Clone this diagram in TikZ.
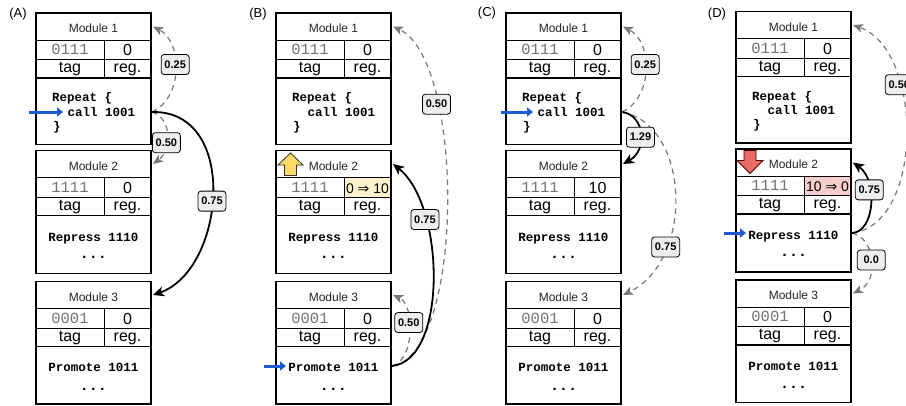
\documentclass[tikz,border=0pt]{standalone}
\usepackage{fontspec}
\setmainfont{Liberation Sans}
\newfontfamily\codefont{Liberation Mono}
\newfontfamily\symfont{DejaVu Sans}
\usetikzlibrary{arrows.meta}
\definecolor{blueA}{RGB}{30,90,210}
\definecolor{dgray}{RGB}{120,120,120}
\definecolor{lblfill}{RGB}{238,238,238}
\definecolor{yelcell}{RGB}{255,242,204}
\definecolor{redcell}{RGB}{248,206,204}
\definecolor{yelicon}{RGB}{255,217,102}
\definecolor{redicon}{RGB}{234,107,102}
\tikzset{
 cell/.style={draw, line width=0.9pt, anchor=north west, inner sep=0pt, outer sep=0pt},
 hdr/.style={cell, minimum width=115, minimum height=27, text height=12pt, text depth=0pt, font=\fontsize{12}{14}\selectfont, text=black!85},
 valL/.style={cell, minimum width=68, minimum height=19.5, text height=10pt, text depth=0pt, font=\codefont\fontsize{15.5}{16}\selectfont, text=black!55},
 valR/.style={cell, minimum width=47, minimum height=19.5, text height=11.5pt, text depth=0pt, font=\fontsize{16}{17}\selectfont},
 labL/.style={cell, minimum width=68, minimum height=18.5, text height=11.5pt, text depth=3.5pt, font=\fontsize{16}{17}\selectfont},
 labR/.style={labL, minimum width=47},
 bodybox/.style={draw, line width=1.5pt, anchor=north west, minimum width=115, inner sep=0pt, outer sep=0pt},
 outer/.style={line width=1.5pt},
 code/.style={font=\codefont\bfseries\fontsize{12.5}{14}\selectfont, inner sep=0pt},
 dots/.style={font=\codefont\bfseries\fontsize{15}{16}\selectfont, inner sep=0pt, anchor=base},
 panellbl/.style={font=\fontsize{13}{14}\selectfont, inner sep=0pt},
 bluearr/.style={draw=blueA, line width=3pt, -{Triangle[length=6pt,width=9pt]}},
 gdash/.style={draw=dgray, line width=1.2pt, dash pattern=on 5.5pt off 4.5pt, -{Stealth[length=10pt,width=8.5pt,inset=2.5pt]}},
 bsolid/.style={draw=black, line width=1.8pt, -{Stealth[length=11pt,width=10pt,inset=3pt]}},
 lbl/.style={solid, draw=black, line width=0.8pt, rounded corners=3pt, fill=lblfill, text=black, minimum width=28, minimum height=20, inner sep=1pt, font=\bfseries\fontsize{11}{12}\selectfont},
 upicon/.style={fill=yelicon, draw=black!80, line width=0.8pt},
 downicon/.style={fill=redicon, draw=black!70!red, line width=0.8pt}
}
\newcommand\modtable[8]{%
 \node[hdr] (#1h) at ({#2},{#3}) {#4};
 \node[valL] (#1tv) at ({#2},{(#3)+27}) {#5};
 \node[valR,fill=#7] (#1rv) at ({(#2)+68},{(#3)+27}) {#6};
 \node[labL] (#1tl) at ({#2},{(#3)+46.5}) {tag};
 \node[labR] (#1rl) at ({(#2)+68},{(#3)+46.5}) {reg.};
 \node[bodybox, minimum height={(#8)-(#3)-65}] (#1b) at ({#2},{(#3)+65}) {};
 \draw[outer] (#1h.north west) rectangle (#1rl.south east);
}
\newcommand\threemods[5]{%
 \modtable{#1a}{#2}{13+(#3)}{Module 1}{0111}{0}{white}{144.5+(#3)}
 \modtable{#1b}{#2}{150.5+(#3)}{Module 2}{1111}{#4}{#5}{273.5+(#3)}
 \modtable{#1c}{#2}{281.5+(#3)}{Module 3}{0001}{0}{white}{404+(#3)}
 \node[code,anchor=base west] (#1rep) at ({(#2)+16},{101.5+(#3)}) {Repeat \{};
 \node[code,anchor=base west] (#1call) at ({(#2)+31.5},{116+(#3)}) {call 1001};
 \node[code,anchor=base west] (#1brc) at ({(#2)+17},{130+(#3)}) {\}};
 \node[code,anchor=base] (#1rps) at ({(#2)+57.5},{241+(#3)}) {Repress 1110};
 \node[dots] (#1dd) at ({(#2)+57.5},{258+(#3)}) {...};
 \node[code,anchor=base] (#1prm) at ({(#2)+57.5},{371.5+(#3)}) {Promote 1011};
 \node[dots] (#1de) at ({(#2)+57.5},{390+(#3)}) {...};
}
\begin{document}
\begin{tikzpicture}[x=1pt,y=-1pt]
\path[use as bounding box, fill=white] (0,0) rectangle (906,405);

% ---------- Panel A ----------
\node[panellbl] (labA) at (18,14) {(A)};
\threemods{A}{36}{0}{0}{white}
\coordinate (As) at (152,112);
\coordinate (Ab0) at (29,112);
\coordinate (Ab1) at (63,112);
\draw[bluearr] (Ab0) -- (Ab1);
\draw[gdash] (As) .. controls (183,98) and (183,42) .. ([xshift=2pt]Aah.east)
  node[lbl,pos=0.55] (Al1) {0.25};
\draw[gdash] (As) .. controls (172,118) and (172,150) .. ([xshift=2pt]Abh.east)
  node[lbl,pos=0.62] (Al2) {0.50};
\draw[bsolid] (As) .. controls (240,110) and (225,270) .. ([xshift=2pt]Ach.east)
  node[lbl,pos=0.53] (Al3) {0.75};

% ---------- Panel B ----------
\node[panellbl] (labB) at (258,14) {(B)};
\threemods{B}{276}{0}{\fontsize{14}{15}\selectfont 0 {\symfont ⇒} 10}{yelcell}
\draw[upicon] (278,165) -- (290.5,153) -- (303,165) -- (296.5,165) -- (296.5,175.5) -- (284.5,175.5) -- (284.5,165) -- cycle;
\coordinate (Bs) at (392,366);
\coordinate (Bb0) at (264,366);
\coordinate (Bb1) at (286,366);
\draw[bluearr] (Bb0) -- (Bb1);
\draw[gdash] (Bs) .. controls (465,355) and (465,60) .. ([xshift=2pt]Bah.east)
  node[lbl,pos=0.72] (Bl1) {0.50};
\draw[gdash] (Bs) .. controls (415,360) and (415,305) .. ([xshift=2pt]Bch.east)
  node[lbl,pos=0.6] (Bl3) {0.50};
\draw[bsolid] (Bs) .. controls (448,360) and (445,205) .. ([xshift=2pt]Bbh.east)
  node[lbl,pos=0.72] (Bl2) {0.75};

% ---------- Panel C ----------
\node[panellbl] (labC) at (487,13) {(C)};
\threemods{C}{506}{0}{10}{white}
\coordinate (Cs) at (622,112);
\coordinate (Cb0) at (501,112);
\coordinate (Cb1) at (533,112);
\draw[bluearr] (Cb0) -- (Cb1);
\draw[gdash] (Cs) .. controls (653,98) and (653,42) .. ([xshift=2pt]Cah.east)
  node[lbl,pos=0.55] (Cl1) {0.25};
\draw[gdash] (Cs) .. controls (690,125) and (695,260) .. ([xshift=2pt]Cch.east)
  node[lbl,pos=0.72] (Cl3) {0.75};
\draw[bsolid] (Cs) .. controls (645,115) and (648,150) .. ([xshift=2pt]Cbh.east)
  node[lbl,pos=0.55] (Cl2) {1.29};

% ---------- Panel D ----------
\node[panellbl] (labD) at (717,14) {(D)};
\threemods{D}{736}{-1.5}{\fontsize{14}{15}\selectfont 10 {\symfont ⇒} 0}{redcell}
\draw[downicon] (744,150.5) -- (756,150.5) -- (756,160.5) -- (763,160.5) -- (750,173.5) -- (737,160.5) -- (744,160.5) -- cycle;
\coordinate (Ds) at (852,233);
\coordinate (Db0) at (724,233);
\coordinate (Db1) at (746,233);
\draw[bluearr] (Db0) -- (Db1);
\draw[gdash] (Ds) .. controls (924,225) and (924,50) .. ([xshift=2pt]Dah.east)
  node[lbl,pos=0.68] (Dl1) {0.50};
\draw[gdash] (Ds) .. controls (875,238) and (880,280) .. ([xshift=2pt]Dch.east)
  node[lbl,pos=0.5] (Dl3) {0.0};
\draw[bsolid] (Ds) .. controls (875,232) and (878,180) .. ([xshift=2pt]Dbh.east)
  node[lbl,pos=0.65] (Dl2) {0.75};
\end{tikzpicture}
\end{document}
